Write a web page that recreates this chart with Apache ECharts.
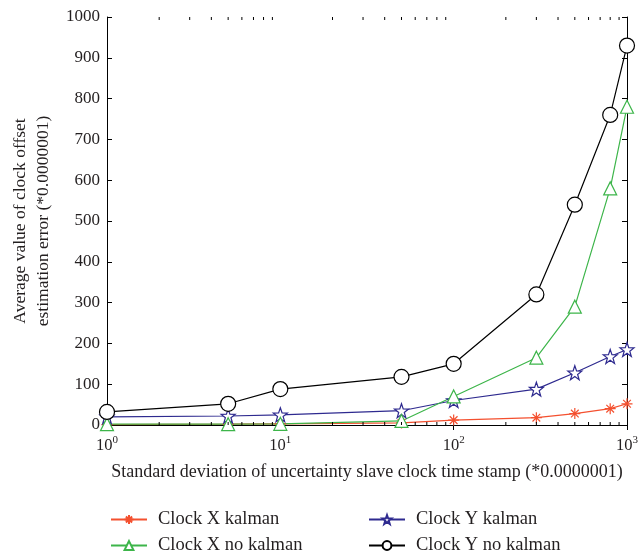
<!DOCTYPE html>
<html>
<head>
<meta charset="utf-8">
<script src="https://cdn.jsdelivr.net/npm/echarts@6/dist/echarts.min.js"></script>
<style>
  html, body { margin: 0; padding: 0; background: #fff; }
  #main { width: 639px; height: 558px; }
</style>
</head>
<body>
<div id="main"></div>
<script>
// standard deviation values on the log axis
const xValues = [1, 5, 10, 50, 100, 300, 500, 800, 1000]

const clockXKalman = [1, 2, 3, 5, 12, 18, 28, 40, 52]
const clockXNoKalman = [2, 2, 3, 10, 70, 165, 290, 580, 780]
const clockYKalman = [20, 22, 25, 35, 60, 88, 128, 168, 185]
const clockYNoKalman = [32, 52, 88, 118, 150, 320, 540, 760, 930]

const minorTicks = [2, 3, 4, 5, 6, 7, 8, 9, 20, 30, 40, 50, 60, 70, 80, 90, 200, 300, 400, 500, 600, 700, 800, 900]

const yMin = 0
const yMax = 1000
const yStep = 100

const font = '"Liberation Serif", "DejaVu Serif", serif'
const ink = '#231f20'

const STAR = 'path://M50,0L61.8,33.8L97.6,34.5L69,56.2L79.4,90.5L50,70L20.6,90.5L31,56.2L2.4,34.5L38.2,33.8Z'
const ASTER = 'path://M50,0L50,100M0,50L100,50M15,15L85,85M85,15L15,85'

function pairs(ys) {
  return xValues.map((x, i) => [x, ys[i]])
}

function lineSeries(name, ys, color, symbol, size) {
  return {
    name,
    type: 'line',
    data: pairs(ys),
    symbol,
    symbolSize: size,
    showAllSymbol: true,
    lineStyle: { color, width: 1.2 },
    itemStyle: { color: '#fff', borderColor: color, borderWidth: 1.2 },
    emphasis: { disabled: true },
  }
}

function legendAt(name, left, top) {
  return {
    left, top,
    itemWidth: 36, itemHeight: 11,
    textStyle: { fontFamily: font, fontSize: 18.5, color: ink, padding: [0, 0, 0, 6] },
    data: [name],
  }
}

const myChart = echarts.init(document.getElementById('main'))

const option = {
  animation: false,
  textStyle: { fontFamily: font },
  grid: { left: 107, right: 12, top: 17, bottom: 133, containLabel: false, outerBoundsMode: 'none' },
  legend: [
    legendAt('Clock X kalman', 105, 505),
    legendAt('Clock X no kalman', 105, 531),
    legendAt('Clock Y kalman', 363, 505),
    legendAt('Clock Y no kalman', 363, 531),
  ],
  xAxis: [
    {
      type: 'log', logBase: 10, min: 1, max: 1000,
      name: 'Standard deviation of uncertainty slave clock time stamp (*0.0000001)',
      nameLocation: 'middle', nameGap: 38,
      nameTextStyle: { fontFamily: font, fontSize: 18, color: ink },
      axisLine: { lineStyle: { color: '#000', width: 1 } },
      axisTick: { inside: true, length: 5, lineStyle: { color: '#000' } },
      splitLine: { show: false },
      axisLabel: {
        margin: 10,
        formatter: v => '{b|10}{s|' + Math.round(Math.log10(v)) + '}',
        rich: {
          b: { fontFamily: font, fontSize: 16.5, color: ink },
          s: { fontFamily: font, fontSize: 11, color: ink, padding: [0, 0, 10, 0] },
        },
      },
    },
    {
      type: 'log', logBase: 10, min: 1, max: 1000, position: 'top',
      axisLine: { lineStyle: { color: '#000', width: 1 } },
      axisTick: { inside: true, length: 5, lineStyle: { color: '#000' } },
      axisLabel: { show: false },
      splitLine: { show: false },
    },
  ],
  yAxis: [
    {
      type: 'value', min: yMin, max: yMax, interval: yStep,
      name: 'Average value of clock offset\nestimation error (*0.0000001)',
      nameLocation: 'middle', nameGap: 49, nameRotate: 90,
      nameTextStyle: { fontFamily: font, fontSize: 17.5, color: ink, lineHeight: 23 },
      axisLine: { show: true, lineStyle: { color: '#000', width: 1 } },
      axisTick: { show: true, inside: true, length: 5, lineStyle: { color: '#000' } },
      splitLine: { show: false },
      axisLabel: { fontFamily: font, fontSize: 17, color: ink, margin: 7, formatter: v => String(v) },
    },
    {
      type: 'value', min: yMin, max: yMax, interval: yStep, position: 'right',
      axisLine: { show: true, lineStyle: { color: '#000', width: 1 } },
      axisTick: { show: true, inside: true, length: 5, lineStyle: { color: '#000' } },
      axisLabel: { show: false },
      splitLine: { show: false },
    },
  ],
  series: [
    {
      // log minor ticks on bottom and top edges
      type: 'custom',
      silent: true,
      z: 5,
      data: minorTicks.map(v => [v, yMin]),
      encode: { x: 0, y: 1 },
      renderItem: (params, api) => {
        const v = api.value(0)
        const lo = api.coord([v, yMin])
        const hi = api.coord([v, yMax])
        const style = { stroke: '#000', lineWidth: 1 }
        return {
          type: 'group',
          children: [
            { type: 'line', shape: { x1: lo[0], y1: lo[1], x2: lo[0], y2: lo[1] - 3 }, style },
            { type: 'line', shape: { x1: hi[0], y1: hi[1], x2: hi[0], y2: hi[1] + 3 }, style },
          ],
        }
      },
    },
    lineSeries('Clock X kalman', clockXKalman, '#f4502f', ASTER, 11),
    lineSeries('Clock Y kalman', clockYKalman, '#2e2a8f', STAR, 14),
    lineSeries('Clock X no kalman', clockXNoKalman, '#3db54a', 'triangle', 13),
    lineSeries('Clock Y no kalman', clockYNoKalman, '#000000', 'circle', 15),
  ],
}

myChart.setOption(option)
</script>
</body>
</html>
